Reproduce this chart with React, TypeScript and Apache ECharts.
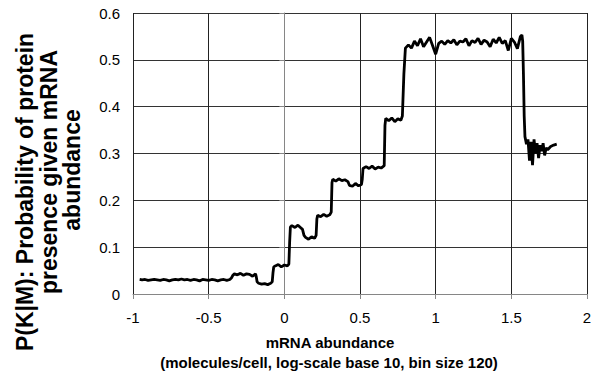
import React, { useEffect, useRef } from "react";
import * as echarts from "echarts";

// mRNA abundance (log10 molecules/cell) and P(K|M)
const mrnaAbundance: number[] = [
  -0.956, -0.94, -0.92, -0.9, -0.88, -0.86, -0.84, -0.82, -0.8, -0.78, -0.76, -0.74, -0.72, -0.7,
  -0.68, -0.66, -0.64, -0.62, -0.6, -0.58, -0.56, -0.54, -0.52, -0.5, -0.48, -0.46, -0.44, -0.42,
  -0.4, -0.38, -0.36, -0.35, -0.34,
  -0.33, -0.31, -0.29, -0.27, -0.25, -0.23, -0.21, -0.19, -0.185, -0.18,
  -0.17, -0.15, -0.13, -0.11, -0.09, -0.08, -0.075, -0.07,
  -0.06, -0.04, -0.02, 0.0, 0.02, 0.03, 0.035, 0.04,
  0.05, 0.07, 0.09, 0.11, 0.12, 0.13,
  0.14, 0.16, 0.18, 0.2, 0.21, 0.215,
  0.22, 0.24, 0.26, 0.28, 0.3, 0.31, 0.315,
  0.32, 0.34, 0.36, 0.38, 0.4, 0.42, 0.43,
  0.45, 0.47, 0.49, 0.51, 0.515, 0.52,
  0.54, 0.56, 0.58, 0.6, 0.62, 0.64, 0.66, 0.665, 0.67,
  0.69, 0.71, 0.73, 0.75, 0.77, 0.78, 0.79, 0.8,
  0.82, 0.84, 0.86, 0.88, 0.9, 0.92, 0.94, 0.96, 0.98, 1.0, 1.02, 1.04, 1.06, 1.08, 1.1, 1.12,
  1.14, 1.16, 1.18, 1.2, 1.22, 1.24, 1.26, 1.28, 1.3, 1.32, 1.34, 1.36, 1.38, 1.4, 1.42, 1.44,
  1.46, 1.48, 1.5, 1.52, 1.54, 1.56, 1.57, 1.575, 1.58, 1.585, 1.59,
  1.6, 1.61, 1.62, 1.63, 1.64, 1.65, 1.66, 1.67, 1.68, 1.69, 1.7, 1.71, 1.72, 1.73, 1.74, 1.76,
  1.78, 1.8,
];

const probability: number[] = [
  0.031, 0.03, 0.031, 0.029, 0.03, 0.031, 0.03, 0.029, 0.031, 0.03, 0.028, 0.03, 0.031, 0.03,
  0.032, 0.03, 0.031, 0.029, 0.031, 0.03, 0.028, 0.031, 0.03, 0.029, 0.031, 0.03, 0.028, 0.03,
  0.031, 0.029, 0.031, 0.034, 0.04,
  0.043, 0.041, 0.044, 0.04, 0.043, 0.042, 0.038, 0.043, 0.036, 0.026,
  0.023, 0.021, 0.022, 0.02, 0.023, 0.026, 0.045, 0.058,
  0.06, 0.063, 0.058, 0.062, 0.06, 0.064, 0.11, 0.143,
  0.146, 0.142, 0.147, 0.141, 0.138, 0.125,
  0.121, 0.117, 0.122, 0.119, 0.125, 0.16,
  0.168, 0.165, 0.17, 0.166, 0.169, 0.175, 0.238,
  0.245, 0.241, 0.246, 0.242, 0.244, 0.24, 0.232,
  0.23, 0.236, 0.231, 0.234, 0.245, 0.268,
  0.272, 0.268, 0.273, 0.267, 0.271, 0.269, 0.274, 0.36, 0.375,
  0.37, 0.376, 0.368, 0.374, 0.371, 0.38, 0.47, 0.525,
  0.532, 0.525, 0.54, 0.53, 0.545, 0.528, 0.538, 0.548, 0.53, 0.512, 0.535, 0.54, 0.533, 0.541,
  0.536, 0.543,
  0.532, 0.54, 0.538, 0.545, 0.53, 0.541, 0.537, 0.546, 0.533, 0.542, 0.538, 0.528, 0.544, 0.536,
  0.548, 0.535,
  0.541, 0.52, 0.546, 0.538, 0.524, 0.55, 0.553, 0.54, 0.47, 0.38, 0.336,
  0.32, 0.33, 0.285, 0.325, 0.275, 0.33, 0.3, 0.322, 0.29, 0.318, 0.305, 0.322, 0.296, 0.312,
  0.308, 0.315, 0.318, 0.32,
];

const xTitleLines: string[] = ["mRNA abundance", "(molecules/cell, log-scale base 10, bin size 120)"];
const yTitleLines: string[] = ["P(K|M): Probability of protein", "presence given mRNA", "abundance"];

const FONT = "'Liberation Sans', Arial, sans-serif";

export default function App() {
  const ref = useRef<HTMLDivElement>(null);
  useEffect(() => {
    if (!ref.current) return;
    const chart = echarts.init(ref.current, undefined, { renderer: "svg" });
    const data = mrnaAbundance.map((x, i) => [x, probability[i]]);
    const yTitlePos = [
      [25, 192],
      [49, 172],
      [72, 170],
    ];
    chart.setOption({
      animation: false,
      backgroundColor: "#ffffff",
      grid: { left: 133, right: 12, top: 13, bottom: 81 },
      xAxis: {
        type: "value",
        min: -1,
        max: 2,
        interval: 0.5,
        axisLine: { show: true, onZero: false, lineStyle: { color: "#868686", width: 1 } },
        axisTick: { show: true, length: 5, lineStyle: { color: "#868686" } },
        axisLabel: { color: "#000", fontSize: 15, fontFamily: FONT, margin: 16 },
        splitLine: { show: true, lineStyle: { color: "#222", width: 1 } },
      },
      yAxis: {
        type: "value",
        min: 0,
        max: 0.6,
        interval: 0.1,
        axisLine: { show: true, lineStyle: { color: "#868686", width: 1 } },
        axisTick: { show: true, length: 5, lineStyle: { color: "#868686" } },
        axisLabel: { color: "#000", fontSize: 15, fontFamily: FONT, margin: 13 },
        splitLine: { show: true, lineStyle: { color: "#333", width: 1 } },
      },
      series: [
        {
          type: "line",
          data,
          showSymbol: false,
          symbol: "none",
          lineStyle: { color: "#000", width: 2.8 },
          z: 5,
        },
      ],
      graphic: [
        {
          type: "text",
          x: 330,
          y: 342,
          style: {
            text: xTitleLines[0],
            font: `bold 15px ${FONT}`,
            fill: "#000",
            textAlign: "center",
            textVerticalAlign: "middle",
          },
        },
        {
          type: "text",
          x: 329,
          y: 362,
          style: {
            text: xTitleLines[1],
            font: `bold 15px ${FONT}`,
            fill: "#000",
            textAlign: "center",
            textVerticalAlign: "middle",
          },
        },
        ...yTitleLines.map((t, i) => ({
          type: "text",
          x: yTitlePos[i][0],
          y: yTitlePos[i][1],
          rotation: Math.PI / 2,
          style: {
            text: t,
            font: `bold 23px ${FONT}`,
            fill: "#000",
            textAlign: "center",
            textVerticalAlign: "middle",
          },
        })),
      ],
    });
    return () => chart.dispose();
  }, []);
  return (
    <div
      ref={ref}
      style={{ position: "fixed", left: 0, top: 0, width: 599, height: 375, background: "#fff" }}
    />
  );
}
